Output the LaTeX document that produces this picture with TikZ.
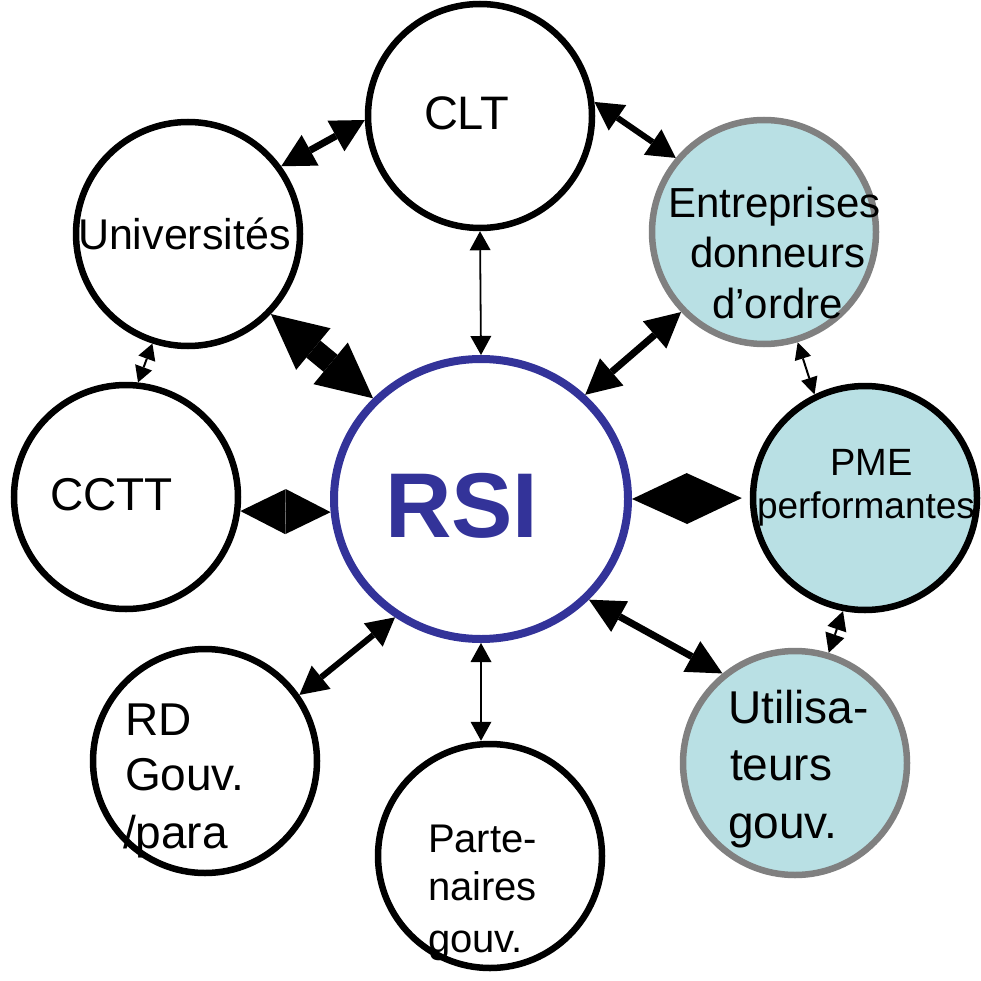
\documentclass[tikz,border=0pt]{standalone}
\usepackage{fontspec}
\setmainfont{Liberation Sans}
\usetikzlibrary{arrows.meta,shapes.geometric}
\definecolor{rsiblue}{HTML}{333399}
\definecolor{lightcyan}{HTML}{B9E0E4}
\definecolor{ringgray}{HTML}{808080}
\begin{document}
\begin{tikzpicture}[x=1pt,y=-1pt,
  circ/.style={circle,draw=black,line width=6.5pt,minimum size=224pt,inner sep=0pt},
  circb/.style={circ,fill=lightcyan},
  circg/.style={circ,draw=ringgray,fill=lightcyan},
  txt/.style={anchor=base west,inner sep=0pt,outer sep=0pt},
  dbl/.style n args={3}{line width=#1,{Triangle[length=#2,width=#3,line width=0pt]}-{Triangle[length=#2,width=#3,line width=0pt]}}
]
\useasboundingbox (0,0) rectangle (980,981);
% circles
\node[circ] (clt) at (480,116) {};
\node[circ] (univ) at (188,234) {};
\node[circg] (entr) at (764,232) {};
\node[circ] (cctt) at (126,497) {};
\node[circb] (pme) at (865,498) {};
\node[circ] (rd) at (205,761) {};
\node[circ] (parte) at (490,856) {};
\node[circg] (util) at (795,763) {};
\node[ellipse,draw=rsiblue,line width=8pt,minimum width=294pt,minimum height=280pt,inner sep=0pt] (rsi) at (481,499) {};
% texts
\node[txt,font=\fontsize{47pt}{50pt}\selectfont] (tclt) at (424,130) {CLT};
\node[txt,font=\fontsize{43pt}{50pt}\selectfont] (tuniv) at (78,250) {Universités};
\node[txt,font=\fontsize{42pt}{50pt}\selectfont] (tentr1) at (668,218) {Entreprises};
\node[txt,font=\fontsize{42pt}{50pt}\selectfont] (tentr2) at (690,268) {donneurs};
\node[txt,font=\fontsize{42pt}{50pt}\selectfont] (tentr3) at (712,318) {d’ordre};
\node[txt,font=\fontsize{46pt}{50pt}\selectfont] (tcctt) at (50,510) {CCTT};
\node[txt,font=\fontsize{92pt}{100pt}\selectfont\bfseries,text=rsiblue] (trsi) at (385,537) {RSI};
\node[txt,font=\fontsize{38pt}{45pt}\selectfont] (tpme1) at (830,475) {PME};
\node[txt,font=\fontsize{37pt}{45pt}\selectfont] (tpme2) at (757,518) {performantes};
\node[txt,font=\fontsize{46pt}{50pt}\selectfont] (trd1) at (125,735) {RD};
\node[txt,font=\fontsize{46pt}{50pt}\selectfont] (trd2) at (125,790) {Gouv.};
\node[txt,font=\fontsize{46pt}{50pt}\selectfont] (trd3) at (123,848) {/para};
\node[txt,font=\fontsize{46pt}{50pt}\selectfont] (tutil1) at (728,723) {Utilisa-};
\node[txt,font=\fontsize{46pt}{50pt}\selectfont] (tutil2) at (730,780) {teurs};
\node[txt,font=\fontsize{46pt}{50pt}\selectfont] (tutil3) at (728,838) {gouv.};
\node[txt,font=\fontsize{40pt}{45pt}\selectfont] (tpart1) at (428,852) {Parte-};
\node[txt,font=\fontsize{40pt}{45pt}\selectfont] (tpart2) at (428,900) {naires};
\node[txt,font=\fontsize{40pt}{45pt}\selectfont] (tpart3) at (428,952) {gouv.};
% connectors
\draw[dbl={7pt}{33pt}{35pt}] (clt.182) -- (univ.36);
\draw[dbl={22pt}{55pt}{54pt}] (univ.-44) -- (rsi.137.5);
\draw[dbl={6pt}{28pt}{31pt}] (clt.7) -- (entr.140);
\draw[dbl={7pt}{35pt}{36pt}] (entr.224) -- (rsi.45);
\draw[dbl={1.8pt}{19pt}{21pt}] (clt.south) -- (rsi.north);
\draw[dbl={0.5pt}{45pt}{45pt}] (cctt.-7) -- (rsi.185);
\draw[dbl={0.5pt}{55pt}{51pt},shorten >=8pt] (rsi.east) -- (pme.west);
\draw[dbl={2pt}{16pt}{18pt}] (univ.252) -- (cctt.84);
\draw[dbl={2pt}{17pt}{17pt}] (entr.287) -- (pme.116);
\draw[dbl={2pt}{19pt}{20pt}] (pme.259) -- (util.73);
\draw[dbl={6pt}{28pt}{30pt}] (rd.35) -- (rsi.234);
\draw[dbl={7pt}{35pt}{35pt}] (rsi.-43.7) -- (util.129);
\draw[dbl={1.8pt}{19pt}{21pt}] (rsi.south) -- (rsi.south |- parte.north);
\end{tikzpicture}
\end{document}
